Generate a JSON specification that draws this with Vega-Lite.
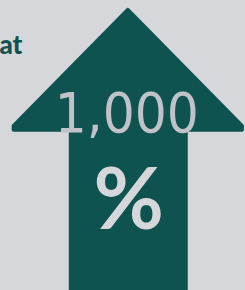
{
  "$schema": "https://vega.github.io/schema/vega-lite/v6.json",
  "width": 245,
  "height": 290,
  "padding": 0,
  "autosize": {"type": "fit", "contains": "padding"},
  "background": "#d6d7da",
  "config": {"view": {"stroke": null}},
  "datasets": {
    "head": [
      {"x": 11, "top": 128, "bottom": 132},
      {"x": 129, "top": 10, "bottom": 132},
      {"x": 247, "top": 128, "bottom": 132}
    ],
    "shaft": [
      {"x": 68, "x2": 191, "y": 130, "y2": 295}
    ],
    "value": [{"label": "1,000"}],
    "unit": [{"label": "%"}],
    "word": [{"label": "at"}]
  },
  "layer": [
    {
      "data": {"name": "shaft"},
      "mark": {"type": "rect", "color": "#0e5350"},
      "encoding": {
        "x": {"field": "x", "type": "quantitative", "scale": {"domain": [0, 245], "nice": false}, "axis": null},
        "x2": {"field": "x2"},
        "y": {"field": "y", "type": "quantitative", "scale": {"domain": [0, 290], "nice": false, "reverse": true}, "axis": null},
        "y2": {"field": "y2"}
      }
    },
    {
      "data": {"name": "head"},
      "mark": {"type": "area", "color": "#0e5350", "stroke": "#0e5350", "strokeWidth": 4, "strokeJoin": "round"},
      "encoding": {
        "x": {"field": "x", "type": "quantitative"},
        "y": {"field": "top", "type": "quantitative"},
        "y2": {"field": "bottom"}
      }
    },
    {
      "data": {"name": "value"},
      "mark": {"type": "text", "font": "DejaVu Sans Condensed, Liberation Sans, sans-serif", "fontSize": 56, "color": "#c0c2c8", "align": "center", "baseline": "alphabetic"},
      "encoding": {
        "text": {"field": "label"},
        "x": {"datum": 128, "type": "quantitative"},
        "y": {"datum": 134, "type": "quantitative"}
      }
    },
    {
      "data": {"name": "unit"},
      "mark": {"type": "text", "font": "Lato", "fontWeight": "bold", "fontSize": 86, "color": "#d6d7da", "align": "center", "baseline": "alphabetic"},
      "encoding": {
        "text": {"field": "label"},
        "x": {"datum": 130, "type": "quantitative"},
        "y": {"datum": 233, "type": "quantitative"}
      }
    },
    {
      "data": {"name": "word"},
      "mark": {"type": "text", "font": "Lato", "fontWeight": 900, "fontSize": 26, "color": "#0e5350", "align": "right", "baseline": "alphabetic"},
      "encoding": {
        "text": {"field": "label"},
        "x": {"datum": 20, "type": "quantitative"},
        "y": {"datum": 55, "type": "quantitative"}
      }
    }
  ]
}
